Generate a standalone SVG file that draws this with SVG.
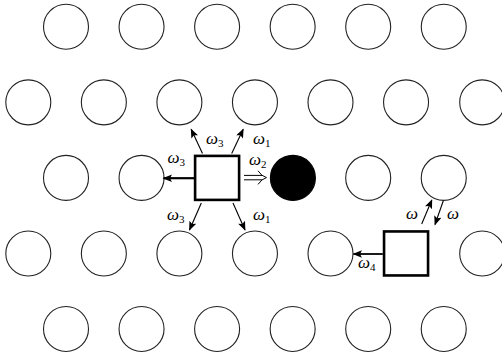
<svg xmlns="http://www.w3.org/2000/svg" width="502" height="355" viewBox="0 0 502 355">
  <style>
    .site { fill: #fff; stroke: #222; stroke-width: 1.1; }
    .occupied { fill: #000; stroke: #000; stroke-width: 1.1; }
    .walker { fill: #fff; stroke: #000; stroke-width: 2.6; }
    .hop { fill: none; stroke: #000; stroke-width: 1.1; marker-end: url(#tip); }
    .hop-strong { fill: none; stroke: #000; stroke-width: 2.2; marker-end: url(#tip-strong); }
    .dbl { fill: none; stroke: #000; stroke-width: 1; }
    .rate { font-family: "Liberation Serif", "DejaVu Serif", serif; font-style: italic; font-size: 17px; fill: #000; }
    .rate tspan { font-style: normal; font-size: 11px; }
  </style>
  <defs>
    <marker id="tip" viewBox="0 0 10 8" refX="9" refY="4" markerWidth="10" markerHeight="7.5" markerUnits="userSpaceOnUse" orient="auto">
      <path d="M0,0 L10,4 L0,8 L2,4 z" fill="#000"/>
    </marker>
    <marker id="tip-strong" viewBox="0 0 10 8" refX="9" refY="4" markerWidth="10" markerHeight="7.5" markerUnits="userSpaceOnUse" orient="auto">
      <path d="M0,0 L10,4 L0,8 L2,4 z" fill="#000"/>
    </marker>
  </defs>

  <!-- lattice sites -->
  <g id="lattice">
    <!-- row 1 -->
    <circle class="site" cx="66.0" cy="26.8" r="22.5"/>
    <circle class="site" cx="141.55" cy="26.8" r="22.5"/>
    <circle class="site" cx="217.1" cy="26.8" r="22.5"/>
    <circle class="site" cx="292.65" cy="26.8" r="22.5"/>
    <circle class="site" cx="368.2" cy="26.8" r="22.5"/>
    <circle class="site" cx="443.75" cy="26.8" r="22.5"/>
    <!-- row 2 -->
    <circle class="site" cx="28.3" cy="102.35" r="22.5"/>
    <circle class="site" cx="103.85" cy="102.35" r="22.5"/>
    <circle class="site" cx="179.4" cy="102.35" r="22.5"/>
    <circle class="site" cx="254.95" cy="102.35" r="22.5"/>
    <circle class="site" cx="330.5" cy="102.35" r="22.5"/>
    <circle class="site" cx="406.05" cy="102.35" r="22.5"/>
    <circle class="site" cx="482.2" cy="102.35" r="22.5"/>
    <!-- row 3 -->
    <circle class="site" cx="66.0" cy="177.9" r="22.5"/>
    <circle class="site" cx="141.55" cy="177.9" r="22.5"/>
    <circle class="site" cx="368.2" cy="177.9" r="22.5"/>
    <circle class="site" cx="443.75" cy="177.9" r="22.5"/>
    <!-- row 4 -->
    <circle class="site" cx="28.3" cy="253.45" r="22.5"/>
    <circle class="site" cx="103.85" cy="253.45" r="22.5"/>
    <circle class="site" cx="179.4" cy="253.45" r="22.5"/>
    <circle class="site" cx="254.95" cy="253.45" r="22.5"/>
    <circle class="site" cx="330.5" cy="253.45" r="22.5"/>
    <circle class="site" cx="482.2" cy="253.45" r="22.5"/>
    <!-- row 5 -->
    <circle class="site" cx="66.0" cy="329.0" r="22.5"/>
    <circle class="site" cx="141.55" cy="329.0" r="22.5"/>
    <circle class="site" cx="217.1" cy="329.0" r="22.5"/>
    <circle class="site" cx="292.65" cy="329.0" r="22.5"/>
    <circle class="site" cx="368.2" cy="329.0" r="22.5"/>
    <circle class="site" cx="443.75" cy="329.0" r="22.5"/>
  </g>

  <g id="blocked-site">
    <circle class="occupied" cx="292.9" cy="177.9" r="22.5"/>
  </g>

  <g id="walker-a">
    <rect class="walker" x="195.1" y="155.9" width="44" height="44"/>
  </g>

  <g id="walker-b">
    <rect class="walker" x="384.05" y="231.45" width="44" height="44"/>
  </g>

  <!-- hopping moves -->
  <g id="connectors">
    <line class="hop-strong" x1="194" y1="178.2" x2="163.5" y2="178.2"/>
    <line class="hop" x1="202.5" y1="153.5" x2="191.2" y2="129.3"/>
    <line class="hop" x1="231.7" y1="153.5" x2="243.2" y2="129.3"/>
    <line class="hop" x1="201.3" y1="203" x2="189.5" y2="230"/>
    <line class="hop" x1="233" y1="203" x2="245" y2="230"/>
    <g class="dbl">
      <line x1="244" y1="175.4" x2="262" y2="175.4"/>
      <line x1="244" y1="179.8" x2="262" y2="179.8"/>
      <path d="M258,170.8 Q261.5,176.2 266.5,177.6 Q261.5,179 258,184.4"/>
    </g>
    <line class="hop-strong" x1="382.8" y1="254" x2="353.5" y2="254" style="stroke-width:1.8"/>
    <line class="hop" x1="421.7" y1="224" x2="431.8" y2="200"/>
    <line class="hop" x1="443.3" y1="200.7" x2="435" y2="224.5"/>
  </g>

  <!-- rate labels -->
  <g id="labels">
    <text class="rate" x="167.5" y="163">ω<tspan dy="3">3</tspan></text>
    <text class="rate" x="206" y="144">ω<tspan dy="3">3</tspan></text>
    <text class="rate" x="253" y="144">ω<tspan dy="3">1</tspan></text>
    <text class="rate" x="249" y="165">ω<tspan dy="3">2</tspan></text>
    <text class="rate" x="167" y="220">ω<tspan dy="3">3</tspan></text>
    <text class="rate" x="253" y="220">ω<tspan dy="3">1</tspan></text>
    <text class="rate" x="358" y="268">ω<tspan dy="3">4</tspan></text>
    <text class="rate" x="406" y="219">ω</text>
    <text class="rate" x="447" y="219">ω</text>
  </g>
</svg>
